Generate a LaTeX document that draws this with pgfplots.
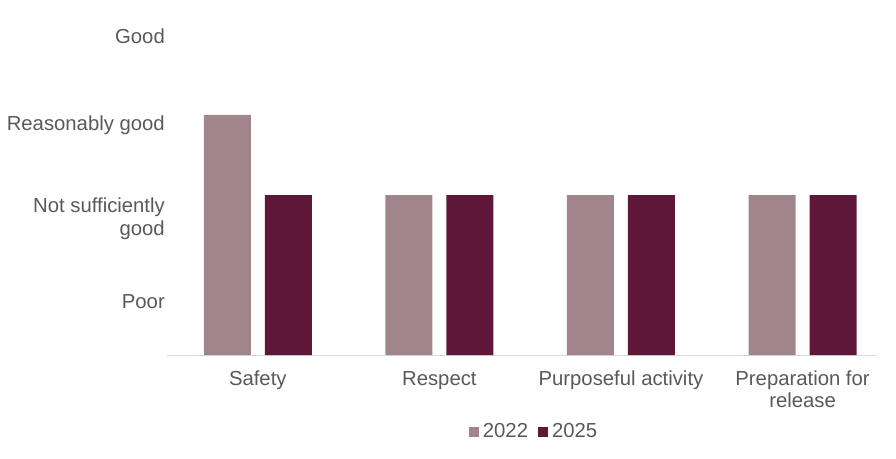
\documentclass[border=0pt]{standalone}
\usepackage{pgfplots}
\pgfplotsset{compat=1.18}
\usepackage{fontspec}
\setmainfont{Liberation Sans}
\definecolor{cA}{HTML}{A0858C}
\definecolor{cB}{HTML}{5E1739}
\definecolor{txt}{HTML}{595959}
\definecolor{axl}{HTML}{D9D9D9}
\begin{document}
\begin{tikzpicture}
\fontsize{20}{23}\selectfont
\path[use as bounding box] (-167pt,-103pt) rectangle (729pt,355pt);
\begin{axis}[
  scale only axis,
  width=710pt, height=355pt,
  xmin=-0.5, xmax=3.41,
  ymin=0, ymax=4.4375,
  ybar, bar width=47pt, ybar=14pt,
  axis x line*=bottom, axis y line*=left,
  x axis line style={draw=axl, line width=1pt},
  y axis line style={draw=none},
  major tick length=0pt,
  xtick={0,1,2,3},
  xticklabels={Safety,Respect,Purposeful activity,{Preparation for\\release}},
  xticklabel style={anchor=north, align=center, inner sep=0pt, yshift=-16pt, text=txt, font=\fontsize{20.3}{22}\selectfont},
  ytick={0.6625,1.7,2.875,3.9875},
  yticklabels={Poor,{Not sufficiently\\good},Reasonably good,Good},
  yticklabel style={anchor=east, align=right, inner sep=0pt, xshift=-2pt, text=txt, font=\fontsize{20.3}{23}\selectfont},
  legend style={at={(0.517,-0.217)}, anchor=center, draw=none, fill=none, legend columns=2, text=txt, font=\fontsize{20.3}{22}\selectfont,
    /tikz/every even column/.append style={column sep=8pt}},
  legend image code/.code={\fill[#1] (0pt,-5pt) rectangle (10pt,5pt);},
]
\addplot[fill=cA, draw=none] coordinates {(0,3) (1,2) (2,2) (3,2)};
\addplot[fill=cB, draw=none] coordinates {(0,2) (1,2) (2,2) (3,2)};
\legend{\hspace{2pt}2022,\hspace{2pt}2025}
\end{axis}
\end{tikzpicture}
\end{document}
